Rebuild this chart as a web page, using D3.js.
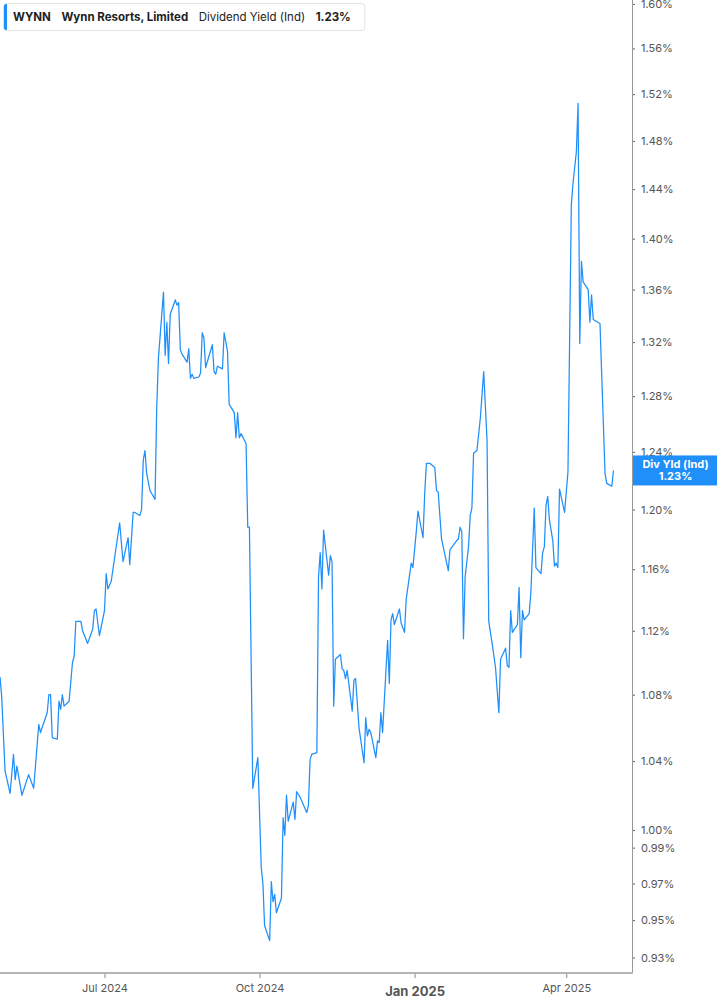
<!DOCTYPE html>
<html>
<head>
<meta charset="utf-8">
<script src="https://cdn.jsdelivr.net/npm/d3@7/dist/d3.min.js"></script>
<style>
  html, body { margin: 0; padding: 0; background: #fff; }
  svg { display: block; font-family: Inter, "Noto Sans", Roboto, sans-serif; }
</style>
</head>
<body>
<svg id="chart" width="717" height="1005"></svg>
<script>
// ---- Data ----
const ticker = "WYNN";
const companyName = "Wynn Resorts, Limited";
const metricName = "Dividend Yield (Ind)";
const lastValueLabel = "1.23%";
const badgeTitle = "Div Yld (Ind)";

const dates = [
  "2024-04-30","2024-05-01","2024-05-03","2024-05-06","2024-05-08","2024-05-09","2024-05-10","2024-05-13","2024-05-17","2024-05-20",
  "2024-05-23","2024-05-24","2024-05-28","2024-05-29","2024-05-30","2024-05-31","2024-06-03","2024-06-04","2024-06-05","2024-06-06",
  "2024-06-07","2024-06-10","2024-06-12","2024-06-13","2024-06-14","2024-06-17","2024-06-18","2024-06-21","2024-06-24","2024-06-25",
  "2024-06-26","2024-06-28","2024-07-01","2024-07-02","2024-07-03","2024-07-05","2024-07-10","2024-07-12","2024-07-15","2024-07-16",
  "2024-07-18","2024-07-19","2024-07-22","2024-07-23","2024-07-24","2024-07-25","2024-07-26","2024-07-28","2024-07-29","2024-07-31",
  "2024-08-01","2024-08-02","2024-08-05","2024-08-06","2024-08-07","2024-08-08","2024-08-09","2024-08-12","2024-08-13","2024-08-14",
  "2024-08-15","2024-08-16","2024-08-19","2024-08-20","2024-08-21","2024-08-22","2024-08-23","2024-08-26","2024-08-27","2024-08-28",
  "2024-08-29","2024-08-30","2024-09-03","2024-09-04","2024-09-05","2024-09-06","2024-09-09","2024-09-10","2024-09-12","2024-09-13",
  "2024-09-16","2024-09-17","2024-09-18","2024-09-19","2024-09-20","2024-09-23","2024-09-24","2024-09-25","2024-09-27","2024-09-30",
  "2024-10-02","2024-10-03","2024-10-04","2024-10-07","2024-10-08","2024-10-09","2024-10-10","2024-10-11","2024-10-14","2024-10-15",
  "2024-10-16","2024-10-17","2024-10-18","2024-10-21","2024-10-22","2024-10-23","2024-10-25","2024-10-29","2024-10-30","2024-10-31",
  "2024-11-01","2024-11-04","2024-11-05","2024-11-06","2024-11-07","2024-11-08","2024-11-11","2024-11-12","2024-11-13","2024-11-14",
  "2024-11-15","2024-11-18","2024-11-19","2024-11-20","2024-11-21","2024-11-22","2024-11-25","2024-11-26","2024-11-27","2024-11-29",
  "2024-12-02","2024-12-03","2024-12-04","2024-12-05","2024-12-06","2024-12-09","2024-12-10","2024-12-11","2024-12-12","2024-12-13",
  "2024-12-16","2024-12-17","2024-12-18","2024-12-19","2024-12-20","2024-12-23","2024-12-24","2024-12-26","2024-12-27","2024-12-30",
  "2024-12-31","2025-01-02","2025-01-03","2025-01-06","2025-01-07","2025-01-08","2025-01-10","2025-01-13","2025-01-14","2025-01-15",
  "2025-01-17","2025-01-21","2025-01-22","2025-01-26","2025-01-27","2025-01-28","2025-01-29","2025-01-30","2025-01-31","2025-02-02",
  "2025-02-03","2025-02-04","2025-02-05","2025-02-07","2025-02-09","2025-02-11","2025-02-13","2025-02-14","2025-02-16","2025-02-18",
  "2025-02-20","2025-02-21","2025-02-24","2025-02-25","2025-02-26","2025-02-27","2025-02-28","2025-03-03","2025-03-04","2025-03-05",
  "2025-03-06","2025-03-07","2025-03-10","2025-03-11","2025-03-13","2025-03-14","2025-03-17","2025-03-18","2025-03-19","2025-03-20",
  "2025-03-21","2025-03-22","2025-03-24","2025-03-25","2025-03-26","2025-03-27","2025-03-28","2025-03-31","2025-04-02","2025-04-04",
  "2025-04-05","2025-04-07","2025-04-08","2025-04-09","2025-04-10","2025-04-11","2025-04-14","2025-04-15","2025-04-16","2025-04-17",
  "2025-04-21","2025-04-24","2025-04-25","2025-04-28","2025-04-29"
];

const yieldValues = [
  1.091,1.079,1.034,1.021,1.044,1.029,1.037,1.020,1.032,1.024,
  1.062,1.057,1.069,1.080,1.080,1.054,1.053,1.076,1.071,1.080,
  1.073,1.076,1.100,1.104,1.126,1.126,1.120,1.112,1.121,1.133,
  1.134,1.117,1.133,1.157,1.147,1.152,1.191,1.165,1.181,1.163,
  1.198,1.198,1.196,1.200,1.234,1.241,1.225,1.213,1.211,1.207,
  1.272,1.308,1.358,1.310,1.335,1.304,1.341,1.352,1.348,1.350,
  1.314,1.311,1.305,1.315,1.293,1.296,1.293,1.294,1.297,1.327,
  1.323,1.301,1.318,1.298,1.296,1.302,1.300,1.327,1.313,1.274,
  1.268,1.250,1.268,1.250,1.253,1.246,1.188,1.188,1.024,1.042,
  0.979,0.970,0.947,0.939,0.971,0.960,0.964,0.954,0.962,1.007,
  0.997,1.020,1.005,1.016,1.006,1.022,1.019,1.010,1.014,1.041,
  1.044,1.045,1.155,1.171,1.147,1.186,1.156,1.169,1.165,1.073,
  1.102,1.105,1.096,1.095,1.090,1.095,1.070,1.089,1.090,1.060,
  1.039,1.066,1.055,1.059,1.057,1.042,1.052,1.051,1.069,1.057,
  1.114,1.087,1.127,1.131,1.124,1.134,1.125,1.119,1.140,1.164,
  1.161,1.185,1.199,1.181,1.211,1.232,1.232,1.229,1.213,1.212,
  1.180,1.159,1.173,1.179,1.180,1.188,1.185,1.115,1.155,1.175,
  1.196,1.201,1.239,1.241,1.264,1.298,1.248,1.126,1.112,1.097,
  1.069,1.102,1.109,1.098,1.097,1.133,1.119,1.124,1.148,1.103,
  1.133,1.127,1.131,1.145,1.201,1.161,1.157,1.171,1.175,1.203,
  1.209,1.193,1.179,1.162,1.164,1.161,1.214,1.198,1.226,1.427,
  1.445,1.471,1.512,1.319,1.382,1.366,1.360,1.335,1.356,1.337,
  1.334,1.225,1.218,1.216,1.227
];

const yTickValues = [0.93,0.95,0.97,0.99,1.00,1.04,1.08,1.12,1.16,1.20,1.24,1.28,1.32,1.36,1.40,1.44,1.48,1.52,1.56,1.60];
const xTickDates = ["2024-07-01","2024-10-01","2025-01-01","2025-04-01"];
const xTickLabels = ["Jul 2024","Oct 2024","Jan 2025","Apr 2025"];
const xBoldLabels = ["Jan 2025"];
const xDomainDates = ["2024-04-30","2025-05-10"];
const yDomainValues = [0.92185, 1.6036];

// ---- Layout ----
const W = 717, H = 1005;
const plotRight = 632, plotBottom = 973;
const lineColor = "#1f8ffa";

const parse = d3.utcParse("%Y-%m-%d");
const data = dates.map((d, i) => ({ date: parse(d), value: yieldValues[i] }));

const x = d3.scaleUtc().domain(xDomainDates.map(parse)).range([0, plotRight]);
const y = d3.scaleLog().domain(yDomainValues).range([plotBottom, 0]);

const svg = d3.select("#chart");
svg.append("rect").attr("width", W).attr("height", H).attr("fill", "#fff");

// clip
svg.append("clipPath").attr("id", "plotclip")
  .append("rect").attr("x", 0).attr("y", 0).attr("width", plotRight).attr("height", plotBottom);

// line
const line = d3.line().x(d => x(d.date)).y(d => y(d.value));
svg.append("path")
  .datum(data)
  .attr("clip-path", "url(#plotclip)")
  .attr("fill", "none")
  .attr("stroke", lineColor)
  .attr("stroke-width", 1.25)
  .attr("stroke-linejoin", "round")
  .attr("d", line);

// y axis (right)
const yAxis = d3.axisRight(y)
  .tickValues(yTickValues)
  .tickFormat(d => d.toFixed(2) + "%")
  .tickSize(3)
  .tickPadding(6);
const gy = svg.append("g").attr("transform", `translate(${plotRight},0)`).call(yAxis);
gy.select(".domain").remove();
gy.selectAll(".tick line").attr("stroke", "#777").attr("stroke-width", 1.2);
gy.selectAll(".tick text")
  .attr("fill", "#555")
  .style("font-size", "11px")
  .style("font-family", "Inter, 'Noto Sans', sans-serif");
svg.append("line")
  .attr("x1", plotRight + 0.5).attr("x2", plotRight + 0.5)
  .attr("y1", 0).attr("y2", plotBottom)
  .attr("stroke", "#9a9a9a").attr("stroke-width", 1);

// x axis (bottom)
const xAxis = d3.axisBottom(x)
  .tickValues(xTickDates.map(parse))
  .tickFormat((d, i) => xTickLabels[i])
  .tickSize(5)
  .tickPadding(6);
const gx = svg.append("g").attr("transform", `translate(0,${plotBottom})`).call(xAxis);
gx.select(".domain").remove();
gx.selectAll(".tick line").attr("stroke", "#888").attr("stroke-width", 1);
gx.selectAll(".tick text")
  .attr("fill", "#555")
  .style("font-family", "Inter, 'Noto Sans', sans-serif")
  .style("font-size", (d, i) => xBoldLabels.includes(xTickLabels[i]) ? "13px" : "11px")
  .style("font-weight", (d, i) => xBoldLabels.includes(xTickLabels[i]) ? "700" : "400")
  .attr("dy", (d, i) => xBoldLabels.includes(xTickLabels[i]) ? "0.95em" : "0.75em");
svg.append("line")
  .attr("x1", 0).attr("x2", plotRight + 1)
  .attr("y1", plotBottom).attr("y2", plotBottom)
  .attr("stroke", "#b5b5b5").attr("stroke-width", 2);

// last value badge
const last = data[data.length - 1];
const by = y(last.value);
const badge = svg.append("g");
badge.append("rect")
  .attr("x", plotRight + 1).attr("y", by - 15)
  .attr("width", W - plotRight - 1).attr("height", 30)
  .attr("fill", lineColor);
badge.append("text")
  .attr("x", (plotRight + W) / 2 + 1).attr("y", by - 5)
  .attr("text-anchor", "middle").attr("dominant-baseline", "middle")
  .attr("fill", "#fff").style("font-size", "11px").style("font-weight", "700")
  .text(badgeTitle);
badge.append("text")
  .attr("x", (plotRight + W) / 2 + 1).attr("y", by + 7)
  .attr("text-anchor", "middle").attr("dominant-baseline", "middle")
  .attr("fill", "#fff").style("font-size", "11px").style("font-weight", "700")
  .text(lastValueLabel);

// legend header
const lg = svg.append("g");
const lgBox = lg.append("rect")
  .attr("x", 3.5).attr("y", 3.5).attr("height", 27).attr("rx", 3)
  .attr("fill", "#fff").attr("stroke", "#e2e2e2");
lg.append("path")
  .attr("d", "M7,4 L7,30 L6,30 Q4,30 4,28 L4,6 Q4,4 6,4 Z")
  .attr("fill", lineColor);
const legendItems = [
  { text: ticker, weight: 700 },
  { text: companyName, weight: 700 },
  { text: metricName, weight: 400 },
  { text: lastValueLabel, weight: 700 }
];
let cursor = 13;
const gap = 10.5;
legendItems.forEach(item => {
  const t = lg.append("text")
    .attr("x", cursor).attr("y", 21)
    .attr("fill", "#222")
    .style("font-size", "11.5px")
    .style("font-weight", item.weight)
    .text(item.text);
  cursor += t.node().getComputedTextLength() + gap;
});
lgBox.attr("width", cursor + 4 - gap - 3.5 + 10);
</script>
</body>
</html>
